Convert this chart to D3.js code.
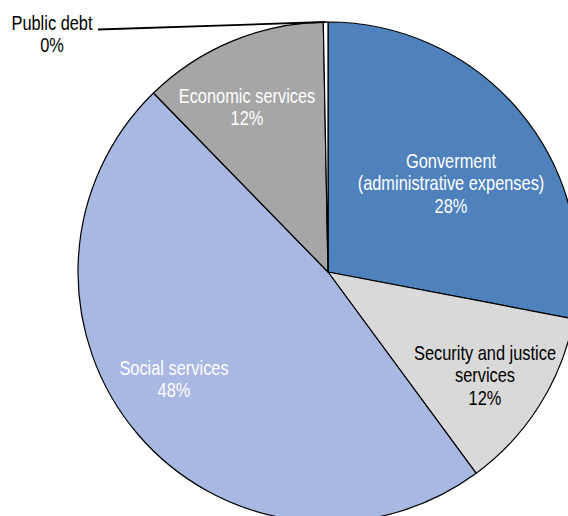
<!DOCTYPE html>
<html>
<head>
<meta charset="utf-8">
<script src="https://cdn.jsdelivr.net/npm/d3@7/dist/d3.min.js"></script>
<style>
  html, body { margin: 0; padding: 0; background: #fff; }
  svg { display: block; }
  text { font-family: "Liberation Sans", Arial, sans-serif; font-size: 20px; }
</style>
</head>
<body>
<svg id="chart" width="568" height="516"></svg>
<script>
// Budget shares by function, clockwise from 12 o'clock
const categories = ["Gonverment\n(administrative expenses)", "Security and justice\nservices", "Social services", "Economic services", "Public debt"];
const values = [28.0, 11.9, 47.8, 12.0, 0.3];
const colors = ["#4F81BD", "#D9D9D9", "#A8B8E2", "#A6A6A6", "#FFFFFF"];
const labelColors = ["#FFFFFF", "#000000", "#FFFFFF", "#FFFFFF", "#000000"];

// Label anchor points (centre of first line) and line spacing
const labelAnchors = [[451, 168], [485, 360], [174, 375], [247, 103], [52, 30]];
const lineGap = 22.5;
// narrow-face look: regular sans squeezed horizontally
const narrow = 0.82;

const svg = d3.select("#chart");
const cx = 328, cy = 272, r = 250;
const g = svg.append("g").attr("transform", `translate(${cx},${cy})`);

const total = d3.sum(values);
const pie = d3.pie().sort(null).value(d => d)(values);
const arc = d3.arc().innerRadius(0).outerRadius(r);

g.selectAll("path.slice")
  .data(pie)
  .join("path")
  .attr("class", "slice")
  .attr("d", arc)
  .attr("fill", (d, i) => colors[i])
  .attr("stroke", "#000")
  .attr("stroke-width", 1.2)
  .attr("stroke-linejoin", "round");

// Leader line for the tiny public-debt slice
const debt = pie[4];
const mid = (debt.startAngle + debt.endAngle) / 2;
const ex = cx + Math.sin(mid) * r, ey = cy - Math.cos(mid) * r;
svg.append("line")
  .attr("x1", 98).attr("y1", 29.5)
  .attr("x2", ex).attr("y2", ey)
  .attr("stroke", "#000").attr("stroke-width", 1.8);

// Category labels with rounded percentages
const fmt = v => Math.round(v / total * 100) + "%";
categories.forEach((name, i) => {
  const lines = name.split("\n").concat([fmt(values[i])]);
  const [lx, ly] = labelAnchors[i];
  const t = svg.append("text")
    .attr("transform", `translate(${lx},0) scale(${narrow},1)`)
    .attr("text-anchor", "middle")
    .attr("fill", labelColors[i]);
  lines.forEach((ln, k) => {
    t.append("tspan").attr("x", 0).attr("y", ly + k * lineGap).text(ln);
  });
});
</script>
</body>
</html>
